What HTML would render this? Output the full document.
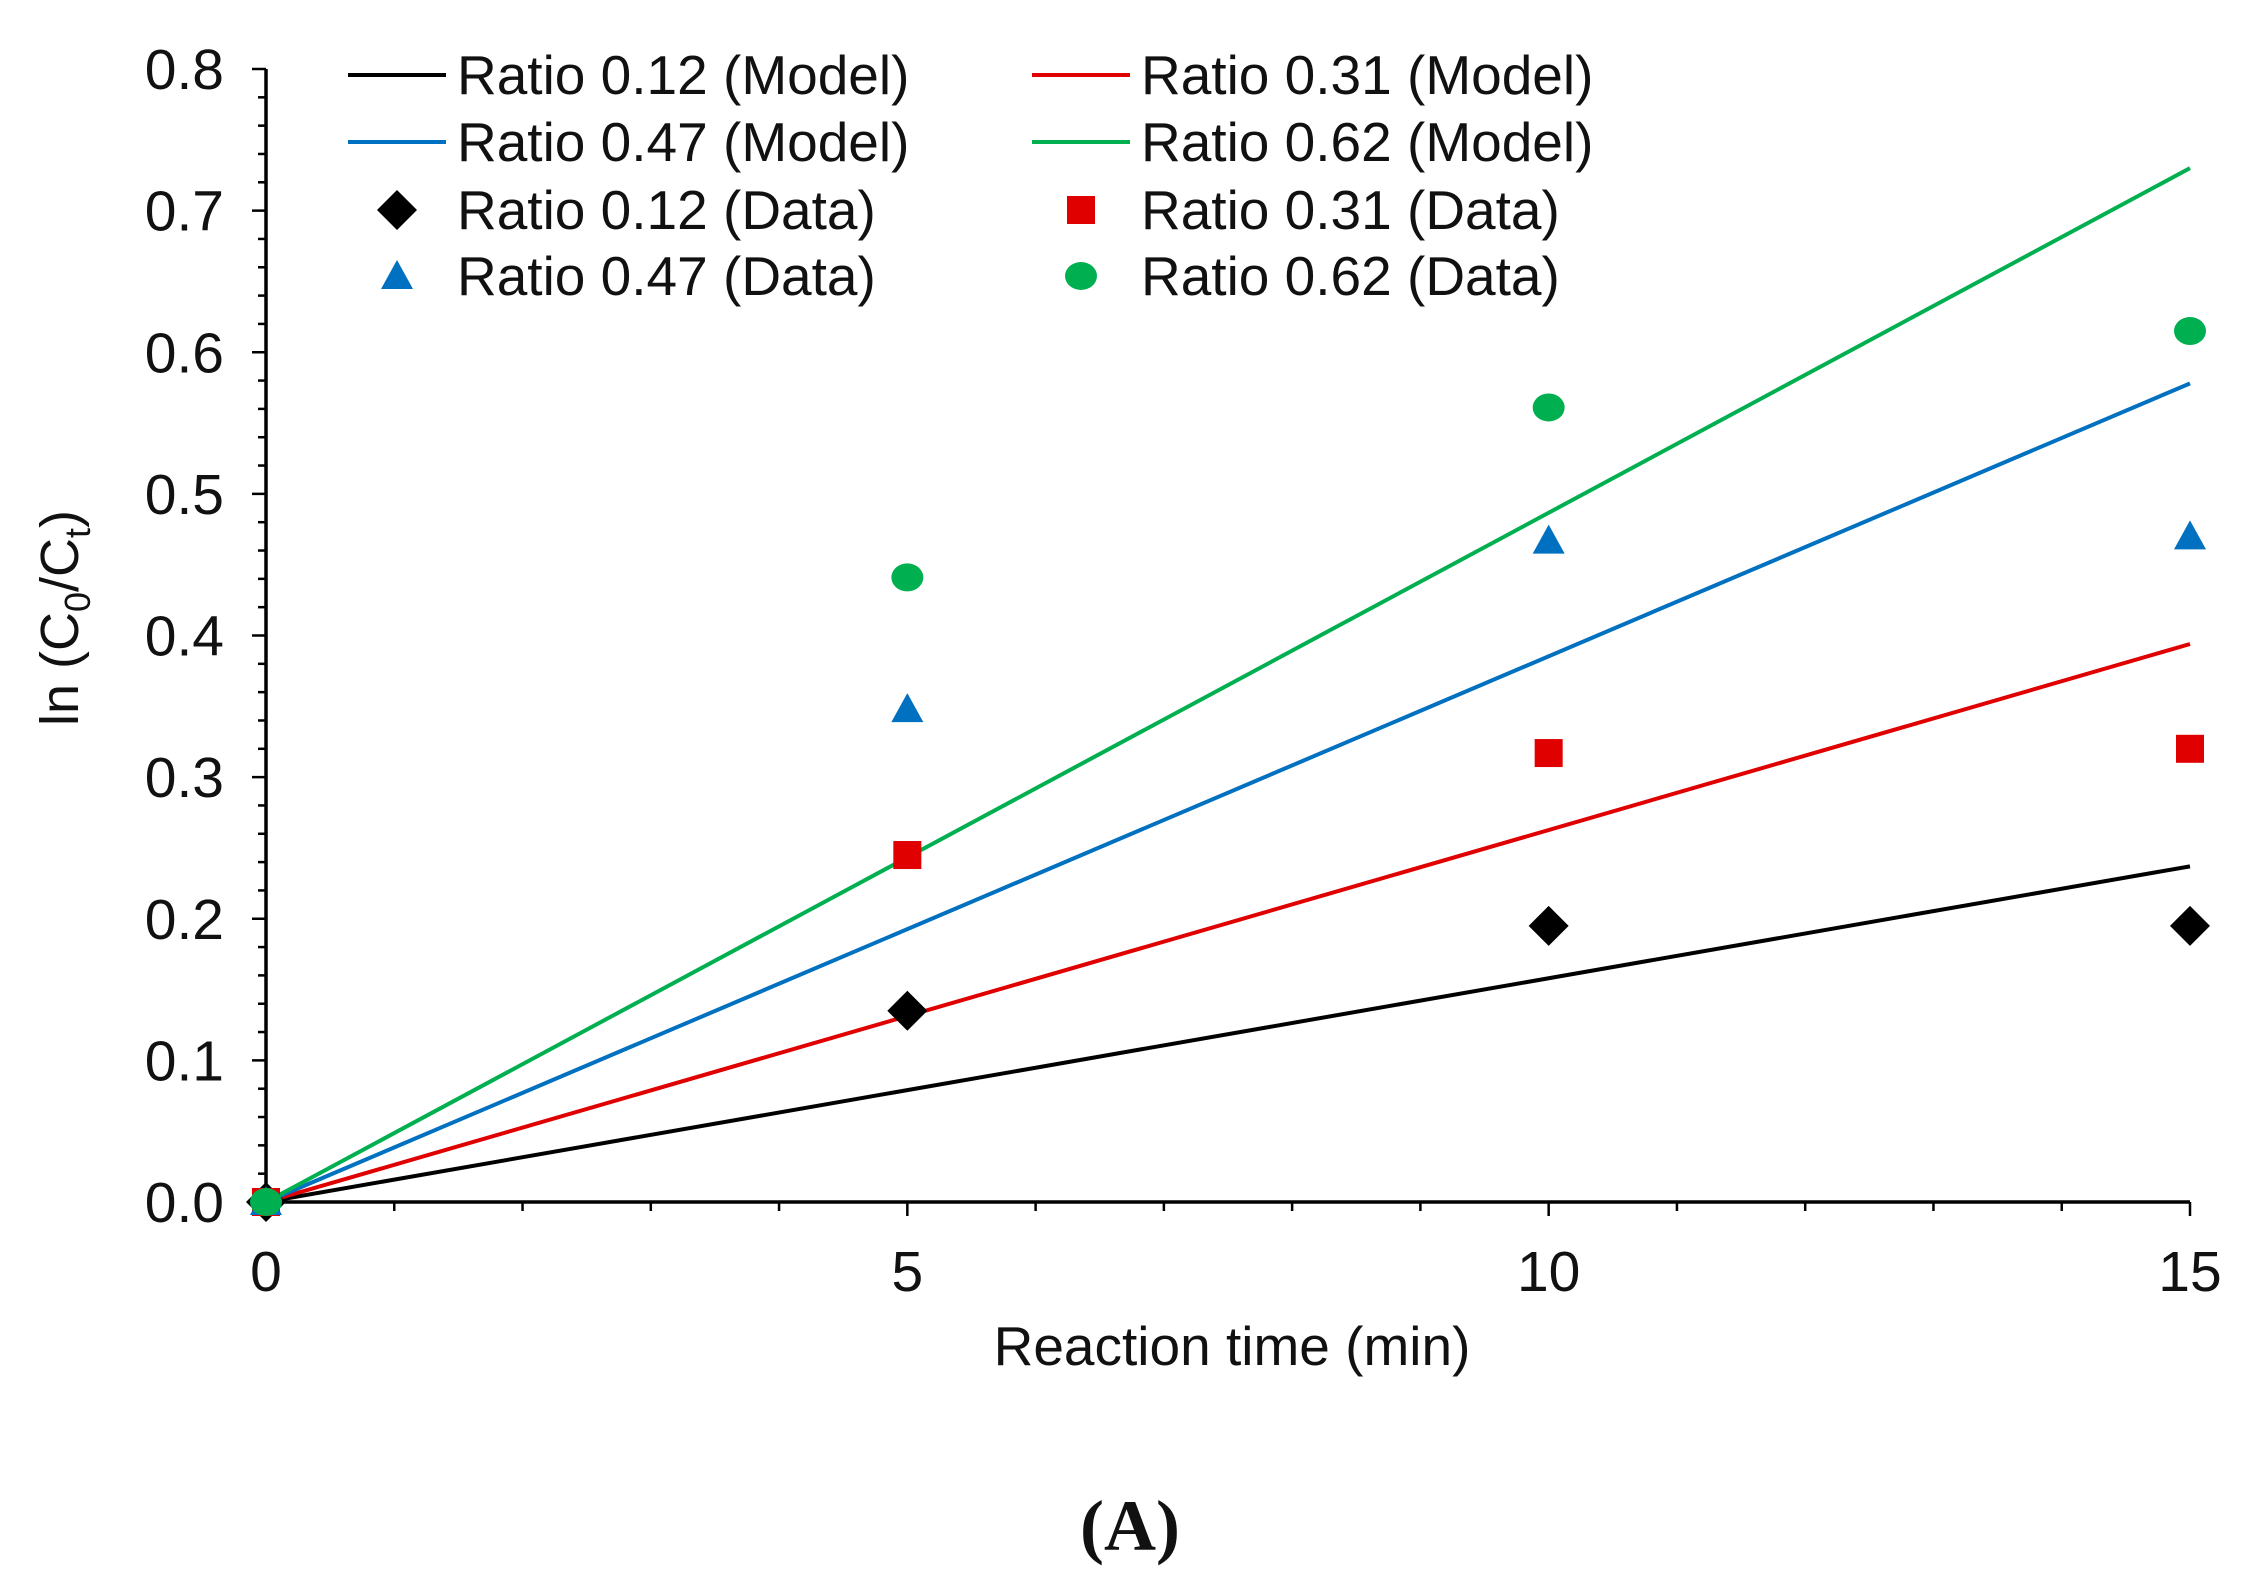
<!DOCTYPE html>
<html><head><meta charset="utf-8"><style>
body{margin:0;background:#fff}
svg text{font-family:"Liberation Sans",sans-serif;fill:#111}
</style></head><body>
<svg id="chart" width="2255" height="1586" viewBox="0 0 2255 1586" xmlns="http://www.w3.org/2000/svg">
<g id="axes"></g>
<g id="lines"></g>
<g id="points"></g>
<g id="legend"></g>
<text x="1232" y="1365" font-size="55" text-anchor="middle">Reaction time (min)</text>
<text transform="translate(78,618) rotate(-90)" font-size="54" text-anchor="middle">ln (C<tspan font-size="36" dy="12">0</tspan><tspan dy="-12">/C</tspan><tspan font-size="36" dy="12">t</tspan><tspan dy="-12">)</tspan></text>
<text x="1130" y="1550" font-size="72" font-weight="bold" text-anchor="middle" style="font-family:'Liberation Serif',serif">(A)</text>
</svg>
<script>
const seriesNames = ["Ratio 0.12", "Ratio 0.31", "Ratio 0.47", "Ratio 0.62"];
const colors = ["#000000", "#e00000", "#0070c0", "#00b050"];
const times = [0, 5, 10, 15];
const modelEnd = [0.237, 0.394, 0.578, 0.730];
const data012 = [0, 0.135, 0.195, 0.195];
const data031 = [0, 0.245, 0.317, 0.320];
const data047 = [0, 0.348, 0.467, 0.470];
const data062 = [0, 0.441, 0.561, 0.615];
const xTicks = [0, 5, 10, 15];
const yTicks = ["0.0","0.1","0.2","0.3","0.4","0.5","0.6","0.7","0.8"];

const NS="http://www.w3.org/2000/svg";
const X0=266,X1=2190,Y0=1202,Y1=69;
const sx=v=>X0+(v-0)/15*(X1-X0);
const sy=v=>Y0-(v/0.8)*(Y0-Y1);
function mk(tag,attrs,parent){const e=document.createElementNS(NS,tag);for(const k in attrs)e.setAttribute(k,attrs[k]);parent.appendChild(e);return e;}
const axes=document.getElementById('axes');
let e;
e=mk('line',{x1:X0,y1:Y0,x2:X1,y2:Y0,stroke:'#000','stroke-width':3.5},axes);


e=mk('line',{x1:X0,y1:Y0+2,x2:X0,y2:Y1,stroke:'#000','stroke-width':3.5},axes);


for(let i=0;i<=40;i++){const v=i*0.02;const major=i%5===0;
 e=mk('line',{x1:X0-(major?14:8),y1:sy(v),x2:X0,y2:sy(v),stroke:'#000','stroke-width':2.5},axes);
 
 }
yTicks.forEach(t=>{e=mk('text',{x:X0-42,y:sy(parseFloat(t))+20,'font-size':57,'text-anchor':'end'},axes);e.textContent=t;
 
 });
for(let i=0;i<=15;i++){const major=i%5===0;
 e=mk('line',{x1:sx(i),y1:Y0,x2:sx(i),y2:Y0+(major?14:9),stroke:'#000','stroke-width':2.5},axes);
 
 }
xTicks.forEach(t=>{e=mk('text',{x:sx(t),y:Y0+89,'font-size':57,'text-anchor':'middle'},axes);e.textContent=t;
 
 });

const lines=document.getElementById('lines');
modelEnd.forEach((m,i)=>{e=mk('line',{x1:sx(0),y1:sy(0),x2:sx(15),y2:sy(m),stroke:colors[i],'stroke-width':4},lines);
 
 });

const pts=document.getElementById('points');
function marker(kind,cx,cy,color,parent){
 if(kind===0)return mk('polygon',{points:`${cx},${cy-20} ${cx+20},${cy} ${cx},${cy+20} ${cx-20},${cy}`,fill:color},parent);
 if(kind===1)return mk('rect',{x:cx-14,y:cy-14,width:28,height:28,fill:color},parent);
 if(kind===2)return mk('polygon',{points:`${cx},${cy-16} ${cx+16},${cy+13} ${cx-16},${cy+13}`,fill:color},parent);
 return mk('ellipse',{cx:cx,cy:cy,rx:16,ry:14,fill:color},parent);
}
[data012,data031,data047,data062].forEach((arr,s)=>{arr.forEach((v,j)=>{
 e=marker(s,sx(times[j]),sy(v),colors[s],pts);
 
 });});
const leg=document.getElementById('legend');
const colX=[348,1032], rowY=[75,142,210,276];
seriesNames.forEach((n,i)=>{
 const c=i%2, r=Math.floor(i/2);
 e=mk('line',{x1:colX[c],y1:rowY[r],x2:colX[c]+98,y2:rowY[r],stroke:colors[i],'stroke-width':4},leg);
 
 
 e=mk('text',{x:colX[c]+109,y:rowY[r]+19,'font-size':55},leg);e.textContent=n+' (Model)';
 
 
 e=marker(i,colX[c]+49,rowY[r+2],colors[i],leg);
 
 
 e=mk('text',{x:colX[c]+109,y:rowY[r+2]+19,'font-size':55},leg);e.textContent=n+' (Data)';
 
 
});
</script>
</body></html>
